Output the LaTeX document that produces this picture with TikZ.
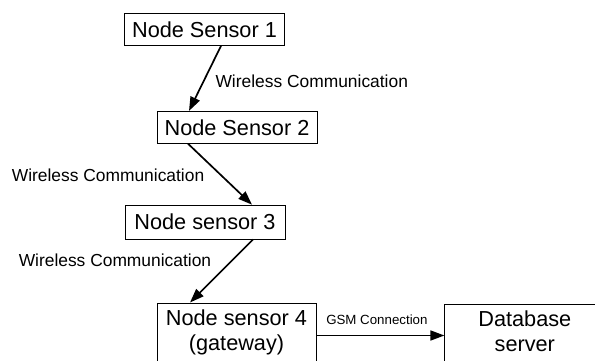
\documentclass[tikz,border=0pt]{standalone}
\usepackage{fontspec}
\setmainfont{Liberation Sans}
\usetikzlibrary{positioning}
\usetikzlibrary{arrows.meta}

\newcommand{\boxfont}{\fontsize{21.7pt}{25pt}\selectfont}
\newcommand{\linkfont}{\fontsize{17.4pt}{20pt}\selectfont}
\newcommand{\gsmfont}{\fontsize{13.3pt}{15pt}\selectfont}

\begin{document}
\begin{tikzpicture}[->, >={Triangle[length=14pt, width=10pt]}, line width=1.7pt, node distance=65pt]
%====Definizione stile blocchi===============================================================
	\tikzstyle{sensor}=[draw, -, line width=0.8pt, font=\boxfont, minimum width=160pt, minimum height=32pt, inner sep=0pt]
	\tikzstyle{bigbox}=[sensor, align=center, inner ysep=7pt, text depth=70pt]
	\tikzstyle{link}=[font=\linkfont, inner sep=2pt]
	\tikzstyle{gsm}=[font=\gsmfont, inner sep=2pt]
	\useasboundingbox (0,0) rectangle (595pt,-361pt);
%====Definizione blocchi e posizione===============================================================
	\node[sensor]	(n1)	at (204.5pt,-29.5pt)					{Node Sensor 1};
	\node[sensor]	(n2)	[below=65pt of n1, xshift=32.5pt]		{Node Sensor 2};
	\node[sensor, minimum height=34pt]	(n3)	[below=61pt of n2, xshift=-32pt]	{Node sensor 3};
	\node[bigbox, minimum width=159pt]	(n4)	[below=63pt of n3, xshift=31.5pt]	{Node sensor 4\\(gateway)};
	\node[bigbox, minimum width=160pt]	(db)	[right=128pt of n4.north east, anchor=north west, yshift=-1pt]	{Database\\server};
%====Definizione collegamenti===============================================================
			%from     						scritte       											to
	\path	([xshift=16.5pt]n1.south)	edge	node[link, pos=0.54, anchor=west, xshift=9pt]	{Wireless Communication}	([xshift=-48pt]n2.north)
			([xshift=-49pt]n2.south)	edge	node[link, pos=0.525, anchor=east, xshift=-14.5pt]	{Wireless Communication}	([xshift=47pt]n3.north)
			([xshift=48pt]n3.south)		edge	node[link, pos=0.333, anchor=east, xshift=-18pt]	{Wireless Communication}	([xshift=-46.5pt]n4.north)
			([yshift=-33pt]n4.north east)	edge	node[gsm, midway, anchor=south, xshift=-3.5pt, yshift=8.2pt]	{GSM Connection}	([yshift=-32pt]db.north west);
\end{tikzpicture}
\end{document}
